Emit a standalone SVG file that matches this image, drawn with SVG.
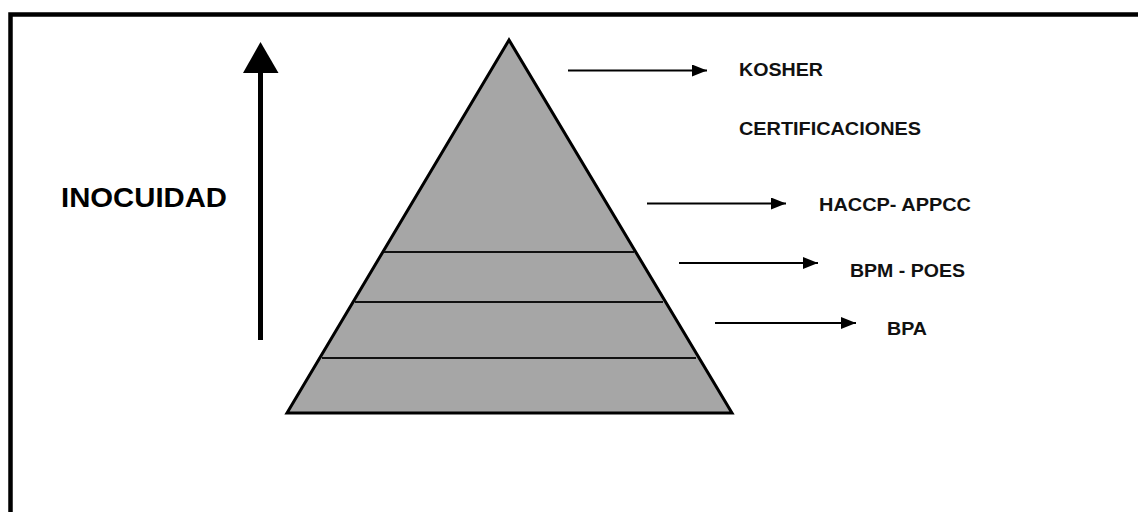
<svg xmlns="http://www.w3.org/2000/svg" width="1138" height="512" viewBox="0 0 1138 512">
<style>
.lbl{font-family:"Liberation Sans",Arial,sans-serif;font-weight:bold;font-size:19px;fill:#111}
.big{font-family:"Liberation Sans",Arial,sans-serif;font-weight:bold;font-size:28px;fill:#000}
.conn{stroke:#000;stroke-width:2;fill:none}
.layer{stroke:#111;stroke-width:2}
</style>
<defs>
<marker id="ah" markerUnits="userSpaceOnUse" markerWidth="16" markerHeight="12" refX="15" refY="6" orient="auto">
<path d="M0,0 L15,6 L0,12 Z" fill="#000"/>
</marker>
</defs>
<rect x="0" y="0" width="1138" height="512" fill="#fff"/>
<path d="M10.5,600 L10.5,14.5 L1200,14.5" stroke="#000" stroke-width="4.5" fill="none"/>
<g id="inocuidad">
<line x1="260.5" y1="340" x2="260.5" y2="70" stroke="#000" stroke-width="5"/>
<polygon points="260.5,42 243,73 278.5,73" fill="#000"/>
<text class="big" x="61" y="207" textLength="166" lengthAdjust="spacingAndGlyphs">INOCUIDAD</text>
</g>
<g id="pyramid">
<polygon points="509,40 287,413 732,413" fill="#a6a6a6" stroke="#000" stroke-width="3" stroke-linejoin="miter"/>
<line class="layer" x1="384" y1="252" x2="634" y2="252"/>
<line class="layer" x1="355" y1="302" x2="663" y2="302"/>
<line class="layer" x1="322" y1="358" x2="696" y2="358"/>
</g>
<g id="connectors">
<line class="conn" x1="568" y1="70.5" x2="707" y2="70.5" marker-end="url(#ah)"/>
<line class="conn" x1="647" y1="203.5" x2="786" y2="203.5" marker-end="url(#ah)"/>
<line class="conn" x1="679" y1="263" x2="818" y2="263" marker-end="url(#ah)"/>
<line class="conn" x1="715" y1="323" x2="856" y2="323" marker-end="url(#ah)"/>
</g>
<g id="kosher"><text class="lbl" x="739" y="76" textLength="84" lengthAdjust="spacingAndGlyphs">KOSHER</text></g>
<g id="certificaciones"><text class="lbl" x="739" y="135" textLength="182" lengthAdjust="spacingAndGlyphs">CERTIFICACIONES</text></g>
<g id="haccp"><text class="lbl" x="819" y="211" textLength="152" lengthAdjust="spacingAndGlyphs">HACCP- APPCC</text></g>
<g id="bpm"><text class="lbl" x="850" y="277" textLength="115" lengthAdjust="spacingAndGlyphs">BPM - POES</text></g>
<g id="bpa"><text class="lbl" x="887" y="335" textLength="40" lengthAdjust="spacingAndGlyphs">BPA</text></g>
</svg>
